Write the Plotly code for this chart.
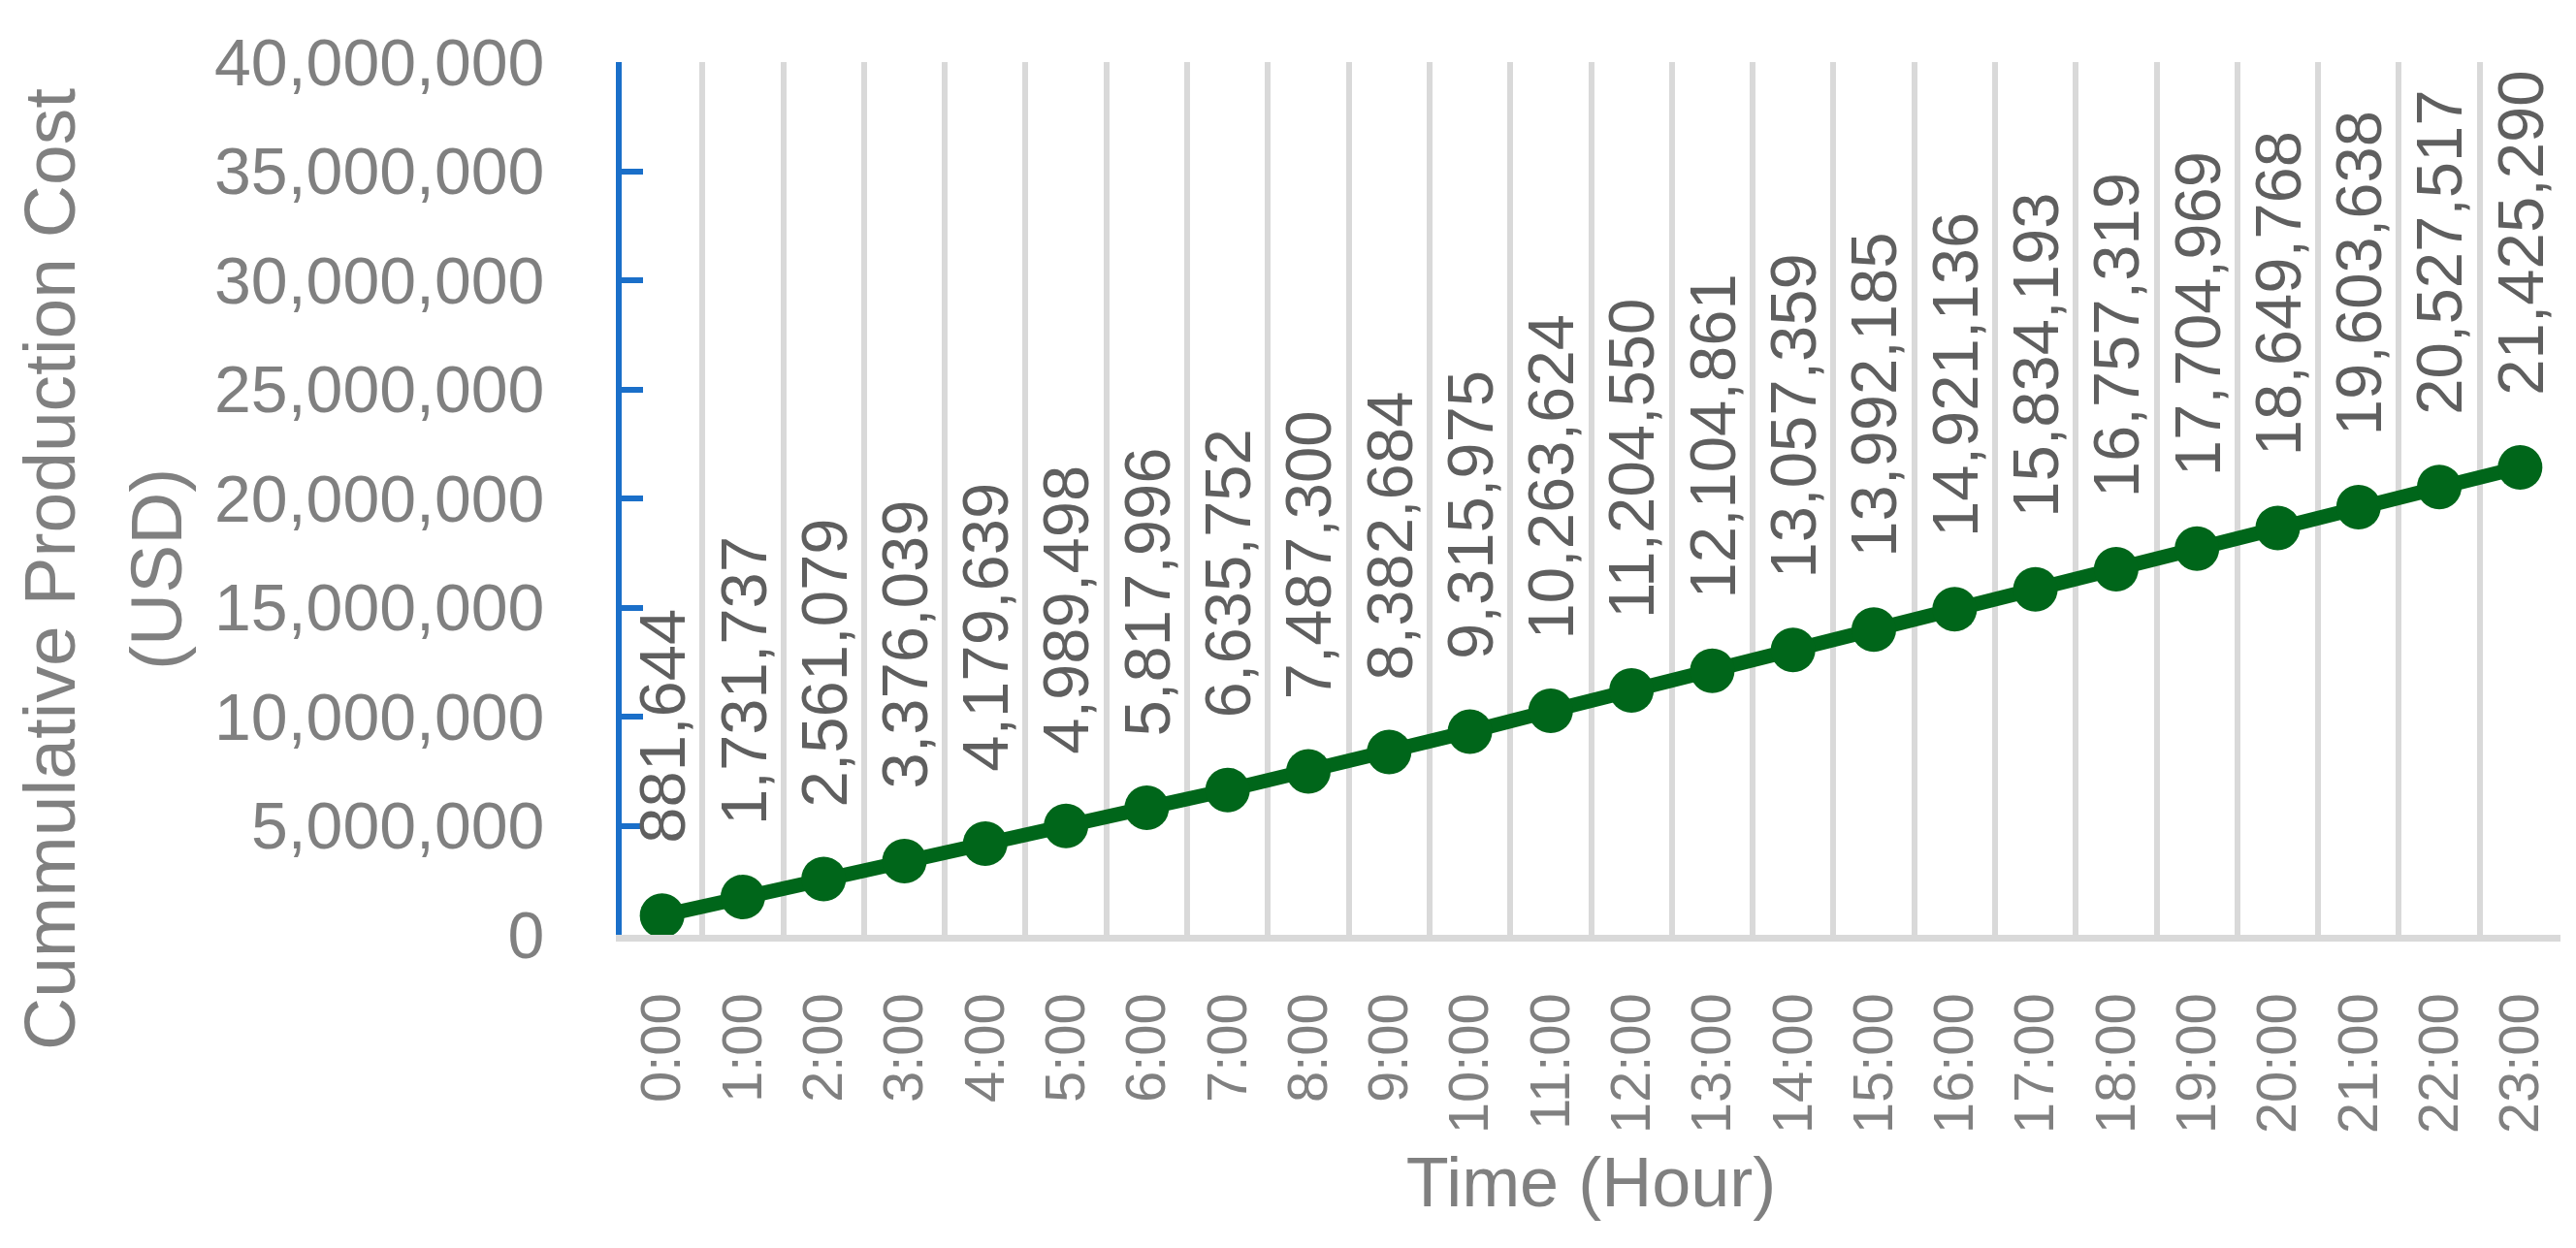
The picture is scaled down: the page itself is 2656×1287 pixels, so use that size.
import plotly.graph_objects as go

hours = [f"{h}:00" for h in range(24)]
cost = [881644, 1731737, 2561079, 3376039, 4179639, 4989498, 5817996, 6635752,
        7487300, 8382684, 9315975, 10263624, 11204550, 12104861, 13057359,
        13992185, 14921136, 15834193, 16757319, 17704969, 18649768, 19603638,
        20527517, 21425290]
y_ticks = [0, 5000000, 10000000, 15000000, 20000000, 25000000, 30000000, 35000000, 40000000]
y_title_lines = ["Cummulative Production Cost", "(USD)"]
x_title = "Time (Hour)"

W, H = 2656, 1287
L, R, T, B = 633, 24, 56, 331
plot_h = H - T - B

GREEN = "#00661a"
FONT = "Liberation Sans, Arial, sans-serif"

fig = go.Figure()
fig.add_trace(go.Scatter(
    x=hours, y=cost, mode="lines+markers",
    line=dict(color=GREEN, width=15),
    marker=dict(color=GREEN, size=46),
    showlegend=False,
))

for h, v in zip(hours, cost):
    fig.add_annotation(x=h, y=v, text=f"{v:,}", showarrow=False, textangle=-90,
                       xanchor="center", yanchor="bottom", yshift=72,
                       font=dict(family=FONT, size=67, color="#5f5f5f"))

# y-axis title (two lines, rotated)
title_center_y = (H - B - 579) / plot_h
for line, px in zip(y_title_lines, [43, 153]):
    fig.add_annotation(xref="paper", yref="paper", x=0, y=title_center_y,
                       xshift=px - L, text=line, showarrow=False, textangle=-90,
                       xanchor="center", yanchor="middle",
                       font=dict(family=FONT, size=75, color="#808080"))

fig.update_layout(
    width=W, height=H,
    margin=dict(l=L, r=R, t=T, b=B),
    plot_bgcolor="white", paper_bgcolor="white",
    xaxis=dict(
        type="category", range=[-0.5, 23.5], tickson="boundaries",
        showgrid=True, gridcolor="#d9d9d9", gridwidth=6,
        showline=True, linecolor="#d9d9d9", linewidth=7,
        ticks="", tickangle=-90,
        tickfont=dict(family=FONT, size=58, color="#808080"),
        ticklabelstandoff=30,
        title=dict(text=x_title, standoff=28,
                   font=dict(family=FONT, size=72, color="#808080")),
    ),
    yaxis=dict(
        range=[0, 40000000], tickvals=y_ticks, tickformat=",d",
        showgrid=False, zeroline=False,
        showline=True, linecolor="#1a6fc9", linewidth=6,
        ticks="inside", ticklen=22, tickwidth=6, tickcolor="#1a6fc9",
        tickfont=dict(family=FONT, size=68, color="#808080"),
        ticklabelstandoff=60,
    ),
)

fig.write_html("out.html")
